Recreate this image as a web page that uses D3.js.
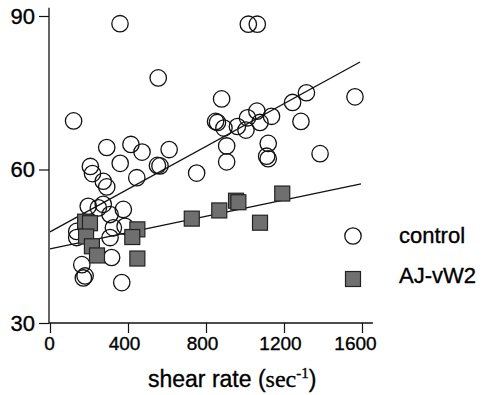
<!DOCTYPE html>
<html>
<head>
<meta charset="utf-8">
<script src="https://cdn.jsdelivr.net/npm/d3@7"></script>
<style>
html,body{margin:0;padding:0;background:#fff;}
svg{display:block;}
text{font-family:"Liberation Sans",Arial,Helvetica,sans-serif;fill:#000;stroke:#000;stroke-width:0.35px;}
</style>
</head>
<body>
<svg id="chart" width="483" height="395"></svg>
<script>
// ---- data (shear rate, value) ----
const controlX = [359,1017,1063,555,121,880,849,859,892,961,1013,1061,1077,1005,1136,906,906,1119,1111,1119,1244,1315,1287,1385,1564,752,291,415,472,611,360,207,218,551,564,445,273,291,196,273,248,376,308,325,385,137,137,308,316,163,180,171,368];
const controlY = [88.5,88.4,88.4,77.9,69.5,73.8,69.4,69.2,68.1,68.4,70.1,71.4,69.2,67.7,70.4,64.6,61.5,65.1,62.6,62.1,73.1,75.0,69.4,63.1,74.2,59.3,64.3,64.9,63.4,63.9,61.2,60.6,59.2,60.8,60.7,58.4,57.7,56.6,52.8,53.2,52.5,52.2,51.2,48.6,48.9,47.9,46.7,46.7,42.8,41.4,39.2,38.8,37.9];
const ajX = [180,205,185,215,241,448,422,448,727,868,954,966,1077,1191];
const ajY = [49.8,49.5,46.9,45.0,43.2,48.3,46.8,42.6,50.4,52.0,53.9,53.6,49.6,55.3];
const controlFitX = [0,1590];
const controlFitY = [47.8,81.0];
const ajFitX = [0,1595];
const ajFitY = [44.5,57.2];
const xTicks = [0,400,800,1200,1600];
const yTicks = [30,60,90];
const seriesNames = ["control","AJ-vW2"];

const svg = d3.select("#chart");
const x = d3.scaleLinear().domain([0,1600]).range([50,362]);
const y = d3.scaleLinear().domain([30,90]).range([323,16]);
const axisY0 = 49;

// axes
const gx = svg.append("g").attr("transform","translate(0,323)")
  .call(d3.axisBottom(x).tickValues(xTicks).tickSize(10).tickPadding(3).tickFormat(d3.format("d")));
gx.select(".domain").remove();
gx.selectAll(".tick line").attr("stroke","#111").attr("stroke-width",1.2);
gx.selectAll(".tick text").attr("font-size",19).attr("font-family","Liberation Sans, Arial, sans-serif")
  .attr("fill","#000").attr("dy","0.72em").attr("dx",d=>d===0?-1:(d===1600?-7:-4));
svg.append("line").attr("x1",axisY0).attr("x2",x(1656)).attr("y1",323).attr("y2",323).attr("stroke","#111").attr("stroke-width",1.3);

const gy = svg.append("g").attr("transform",`translate(${axisY0},0)`)
  .call(d3.axisLeft(y).tickValues(yTicks).tickSize(10).tickPadding(4));
gy.select(".domain").remove();
gy.selectAll(".tick line").attr("stroke","#111").attr("stroke-width",1.2);
gy.selectAll(".tick text").attr("font-size",22).attr("font-family","Liberation Sans, Arial, sans-serif").attr("fill","#000");
svg.append("line").attr("x1",axisY0).attr("x2",axisY0).attr("y1",y(91.6)).attr("y2",323).attr("stroke","#111").attr("stroke-width",1.3);

// fit lines
const line = d3.line().x(d=>x(d[0])).y(d=>y(d[1]));
svg.append("path").datum(controlFitX.map((v,i)=>[v,controlFitY[i]])).attr("d",line)
  .attr("fill","none").attr("stroke","#111").attr("stroke-width",1.3);
svg.append("path").datum(ajFitX.map((v,i)=>[v,ajFitY[i]])).attr("d",line)
  .attr("fill","none").attr("stroke","#111").attr("stroke-width",1.3);

// control circles
svg.append("g").selectAll("circle").data(controlX.map((v,i)=>[v,controlY[i]])).join("circle")
  .attr("cx",d=>x(d[0])).attr("cy",d=>y(d[1])).attr("r",8.2)
  .attr("fill","none").attr("stroke","#111").attr("stroke-width",1.3);

// AJ-vW2 squares
const s = 15;
svg.append("g").selectAll("rect").data(ajX.map((v,i)=>[v,ajY[i]])).join("rect")
  .attr("x",d=>x(d[0])-s/2).attr("y",d=>y(d[1])-s/2).attr("width",s).attr("height",s)
  .attr("fill","#6f6f6f").attr("stroke","#222").attr("stroke-width",1.2);

// legend
const lg = svg.append("g");
lg.append("circle").attr("cx",353).attr("cy",236).attr("r",8.2).attr("fill","#fff").attr("stroke","#111").attr("stroke-width",1.3);
lg.append("text").attr("x",399).attr("y",243).attr("font-size",22).text(seriesNames[0]);
lg.append("rect").attr("x",353-s/2).attr("y",279-s/2).attr("width",s).attr("height",s).attr("fill","#6f6f6f").attr("stroke","#222").attr("stroke-width",1.2);
lg.append("text").attr("x",399).attr("y",283).attr("font-size",22).text(seriesNames[1]);

// x axis title
const t = svg.append("text").attr("x",148).attr("y",387).attr("font-size",23);
t.append("tspan").text("shear rate (");
t.append("tspan").attr("font-family","Liberation Serif, Times New Roman, serif").attr("font-size",24).text("sec");
t.append("tspan").attr("font-family","Liberation Serif, Times New Roman, serif").attr("font-size",15).attr("dy",-9).text("-1");
t.append("tspan").attr("dy",9).text(")");
</script>
</body>
</html>
